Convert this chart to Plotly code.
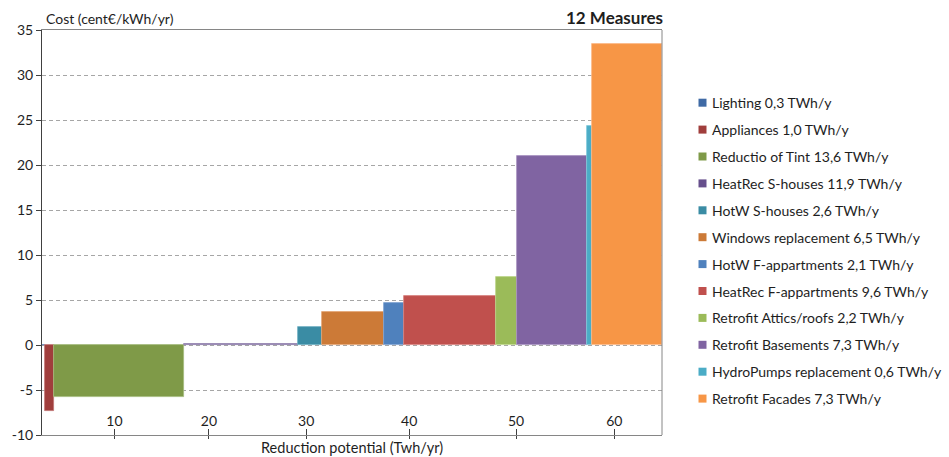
import plotly.graph_objects as go

# Measures, annual savings (TWh/yr) and cost (cent€/kWh/yr)
measures = [
    "Lighting", "Appliances", "Reductio of Tint", "HeatRec S-houses",
    "HotW S-houses", "Windows replacement", "HotW F-appartments",
    "HeatRec F-appartments", "Retrofit Attics/roofs", "Retrofit Basements",
    "HydroPumps replacement", "Retrofit Facades",
]
potential = [0.3, 1.0, 13.6, 11.9, 2.6, 6.5, 2.1, 9.6, 2.2, 7.3, 0.6, 7.3]
potential_text = ["0,3", "1,0", "13,6", "11,9", "2,6", "6,5", "2,1", "9,6", "2,2", "7,3", "0,6", "7,3"]
cost = [0.0, -7.3, -5.75, 0.1, 2.0, 3.65, 4.65, 5.4, 7.6, 21.0, 24.3, 33.5]
colors = [
    "#3F6AA5", "#A03E3C", "#7F9A48", "#664F8C", "#3A8CA4", "#CC7A37",
    "#4F81BD", "#C0504D", "#9BBB59", "#8064A2", "#4BACC6", "#F79646",
]
edge_colors = [
    "#6A8CC0", "#C07472", "#A5BA7E", "#9483B0", "#70B0C2", "#E4A574",
    "#7EA2D0", "#D8827F", "#BCD48A", "#A791C0", "#80C8DA", "#FBB886",
]

# labels of the reduction-potential scale
x_tick_pos = [7.6, 17.5, 27.7, 38.5, 49.7, 60.0]
x_tick_text = ["10", "20", "30", "40", "50", "60"]

# cost scale
y_tick_vals = [-10, -5, 0, 5, 10, 15, 20, 25, 30, 35]
y_tick_text = ["-10", "-5", "0", "5", "10", "15", "20", "25", "30", "35"]

FONT = "Lato"
TEXT = "#1e1e1e"

# each bar spans its cumulative savings interval
starts = []
acc = 0.0
for p in potential:
    starts.append(acc)
    acc += p
centers = [s + p / 2 for s, p in zip(starts, potential)]

fig = go.Figure()
for name, c, w, v, col, ec in zip(measures, centers, potential, cost, colors, edge_colors):
    fig.add_trace(go.Bar(
        x=[c], y=[v], width=[w], name=name,
        marker=dict(color=col, line=dict(color=ec, width=0.8)),
        showlegend=False,
        hovertemplate=name + ": %{y} cent€/kWh<extra></extra>",
    ))

# extra x axes: lower half of the crossing tick marks, and the tick labels
fig.add_trace(go.Scatter(x=[None], y=[None], xaxis="x2", showlegend=False))
fig.add_trace(go.Scatter(x=[None], y=[None], xaxis="x3", showlegend=False))

total = sum(potential)
fig.update_layout(
    width=949, height=457,
    margin=dict(l=42, r=287, t=30, b=22, autoexpand=False),
    paper_bgcolor="white", plot_bgcolor="white",
    barmode="overlay", bargap=0,
    font=dict(family=FONT, size=14, color=TEXT),
    xaxis=dict(
        range=[0, total], showgrid=False, zeroline=False, automargin=False,
        showline=True, linecolor="#868686", linewidth=1, mirror=True,
        tickmode="array", tickvals=x_tick_pos, showticklabels=False,
        ticks="inside", ticklen=6, tickcolor="#404040", tickwidth=1,
    ),
    xaxis2=dict(
        range=[0, total], overlaying="x", side="bottom", showgrid=False,
        zeroline=False, showline=False, automargin=False,
        tickmode="array", tickvals=x_tick_pos, showticklabels=False,
        ticks="outside", ticklen=3, tickcolor="#404040", tickwidth=1,
    ),
    xaxis3=dict(
        range=[0, total], overlaying="x", anchor="free", position=0.06,
        side="bottom", showgrid=False, zeroline=False, showline=False,
        automargin=False, ticks="",
        tickmode="array", tickvals=x_tick_pos, ticktext=x_tick_text,
        tickfont=dict(family=FONT, size=14, color=TEXT),
    ),
    yaxis=dict(
        range=[-10, 35], automargin=False,
        tickmode="array", tickvals=y_tick_vals, ticktext=y_tick_text,
        showgrid=True, gridcolor="#A6A6A6", griddash="4px,3px", gridwidth=1,
        zeroline=False,
        showline=True, linecolor="#404040", linewidth=1,
        ticks="outside", ticklen=5, tickcolor="#404040",
        tickfont=dict(family=FONT, size=14, color=TEXT),
    ),
    shapes=[dict(type="line", xref="paper", yref="paper", x0=1, x1=1, y0=0, y1=1,
                 line=dict(color="#868686", width=1))],
)

annotations = [
    dict(text="Cost (cent€/kWh/yr)", xref="paper", yref="paper", x=0, y=1,
         xanchor="left", yanchor="bottom", xshift=2, yshift=1, showarrow=False,
         font=dict(family=FONT, size=14, color=TEXT)),
    dict(text="<b>12 Measures</b>", xref="paper", yref="paper", x=1, y=1,
         xanchor="right", yanchor="bottom", xshift=3, yshift=0, showarrow=False,
         font=dict(family=FONT, size=17, color=TEXT)),
    dict(text="Reduction potential (Twh/yr)", xref="paper", yref="paper", x=0.5, y=0,
         xanchor="center", yanchor="top", yshift=-2, showarrow=False,
         font=dict(family=FONT, size=14.5, color=TEXT)),
]

# legend: colour square and label per measure
shapes = list(fig.layout.shapes)
leg_x0 = 698.5
leg_y0 = 102.7
leg_step = 26.9
for i, (name, p, col) in enumerate(zip(measures, potential_text, colors)):
    yc = leg_y0 + i * leg_step
    shapes.append(dict(type="rect", xref="paper", yref="paper",
                       x0=(leg_x0 - 42) / 620, x1=(leg_x0 + 8 - 42) / 620,
                       y0=(435 - (yc + 4)) / 405, y1=(435 - (yc - 4)) / 405,
                       fillcolor=col, line=dict(width=0)))
    annotations.append(dict(
        text=f"{name} {p} TWh/y", xref="paper", yref="paper",
        x=(710 - 42) / 620, y=(435 - yc) / 405, xanchor="left", yanchor="middle",
        showarrow=False, font=dict(family=FONT, size=14, color=TEXT)))

fig.update_layout(shapes=shapes, annotations=annotations)

fig.write_html("out.html")
